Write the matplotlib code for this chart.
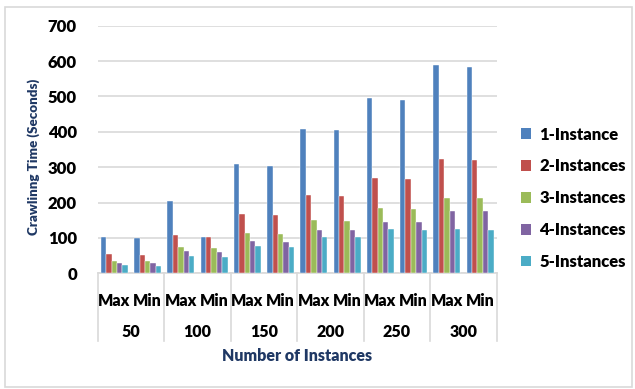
import matplotlib.pyplot as plt
import matplotlib.transforms as mtransforms
from matplotlib.patches import Rectangle, Patch
import numpy as np

plt.rcParams['font.family'] = ['Lato', 'DejaVu Sans']
plt.rcParams['font.weight'] = 'heavy'

groups = ["50", "100", "150", "200", "250", "300"]
sub_labels = ["Max", "Min"]
series_names = ["1-Instance", "2-Instances", "3-Instances", "4-Instances", "5-Instances"]
colors = ["#4F81BD", "#C0504D", "#9BBB59", "#8064A2", "#4BACC6"]

# crawling time (seconds), order: 50 Max, 50 Min, 100 Max, 100 Min, ...
inst1 = [104, 99, 203, 104, 310, 302, 409, 404, 495, 490, 588, 583]
inst2 = [54, 51, 107, 104, 167, 164, 221, 219, 269, 267, 322, 319]
inst3 = [36, 35, 74, 71, 114, 111, 150, 148, 184, 181, 212, 212]
inst4 = [30, 30, 63, 60, 90, 89, 123, 123, 145, 145, 176, 176]
inst5 = [23, 21, 49, 47, 78, 75, 102, 102, 124, 123, 124, 123]
series = [inst1, inst2, inst3, inst4, inst5]

fig = plt.figure(figsize=(6.35, 3.89), dpi=100)
ax = fig.add_axes([0.1539, 0.2974, 0.6283, 0.6366])

n_cat = len(groups) * len(sub_labels)
x = np.arange(n_cat)
bar_w = 0.162
for i, (vals, col) in enumerate(zip(series, colors)):
    offset = (i - 2) * bar_w
    ax.bar(x + offset, vals, width=bar_w, color=col, edgecolor='white',
           linewidth=0.3, zorder=3)

ax.set_xlim(-0.5, n_cat - 0.5)
ax.set_ylim(0, 700)
ax.set_yticks(range(0, 701, 100))
ax.grid(axis='y', color='#D9D9D9', linewidth=1.2, zorder=0)
for side in ['left', 'right', 'top']:
    ax.spines[side].set_visible(False)
ax.spines['bottom'].set_color('#D9D9D9')
ax.spines['bottom'].set_linewidth(1.2)
ax.tick_params(axis='y', length=0, labelsize=12, pad=15)
ax.tick_params(axis='x', length=0, labelsize=11.5, pad=14)
ax.set_xticks(x)
ax.set_xticklabels(sub_labels * len(groups))

# second level of the category axis
trans = mtransforms.blended_transform_factory(ax.transData, ax.transAxes)
for g, name in enumerate(groups):
    ax.text(2 * g + 0.5, -0.236, name, transform=trans, ha='center',
            va='center', fontsize=11.5)
for b in range(len(groups) + 1):
    ax.plot([2 * b - 0.5, 2 * b - 0.5], [0, -0.273], transform=trans,
            color='#D9D9D9', linewidth=1.2, clip_on=False)

ax.set_ylabel("Crawlinng Time (Seconds)", color='#1F3864', fontsize=9.6,
              fontweight='heavy')
ax.yaxis.set_label_coords(-0.145, 0.47)
fig.text(0.468, 0.085, "Number of Instances", color='#1F3864', fontsize=11.5,
         ha='center', va='center')

handles = [Patch(facecolor=c, edgecolor='none') for c in colors]
fig.legend(handles, series_names, loc='upper left',
           bbox_to_anchor=(0.797, 0.713), frameon=False, fontsize=12,
           handlelength=0.6, handleheight=0.6, handletextpad=0.5,
           labelspacing=0.95)

# chart area border
fig.patches.append(Rectangle((0.008, 0.005), 0.988, 0.977, transform=fig.transFigure,
                             fill=False, edgecolor='#D9D9D9', linewidth=1.2))

fig.savefig("out.png", dpi=100)
